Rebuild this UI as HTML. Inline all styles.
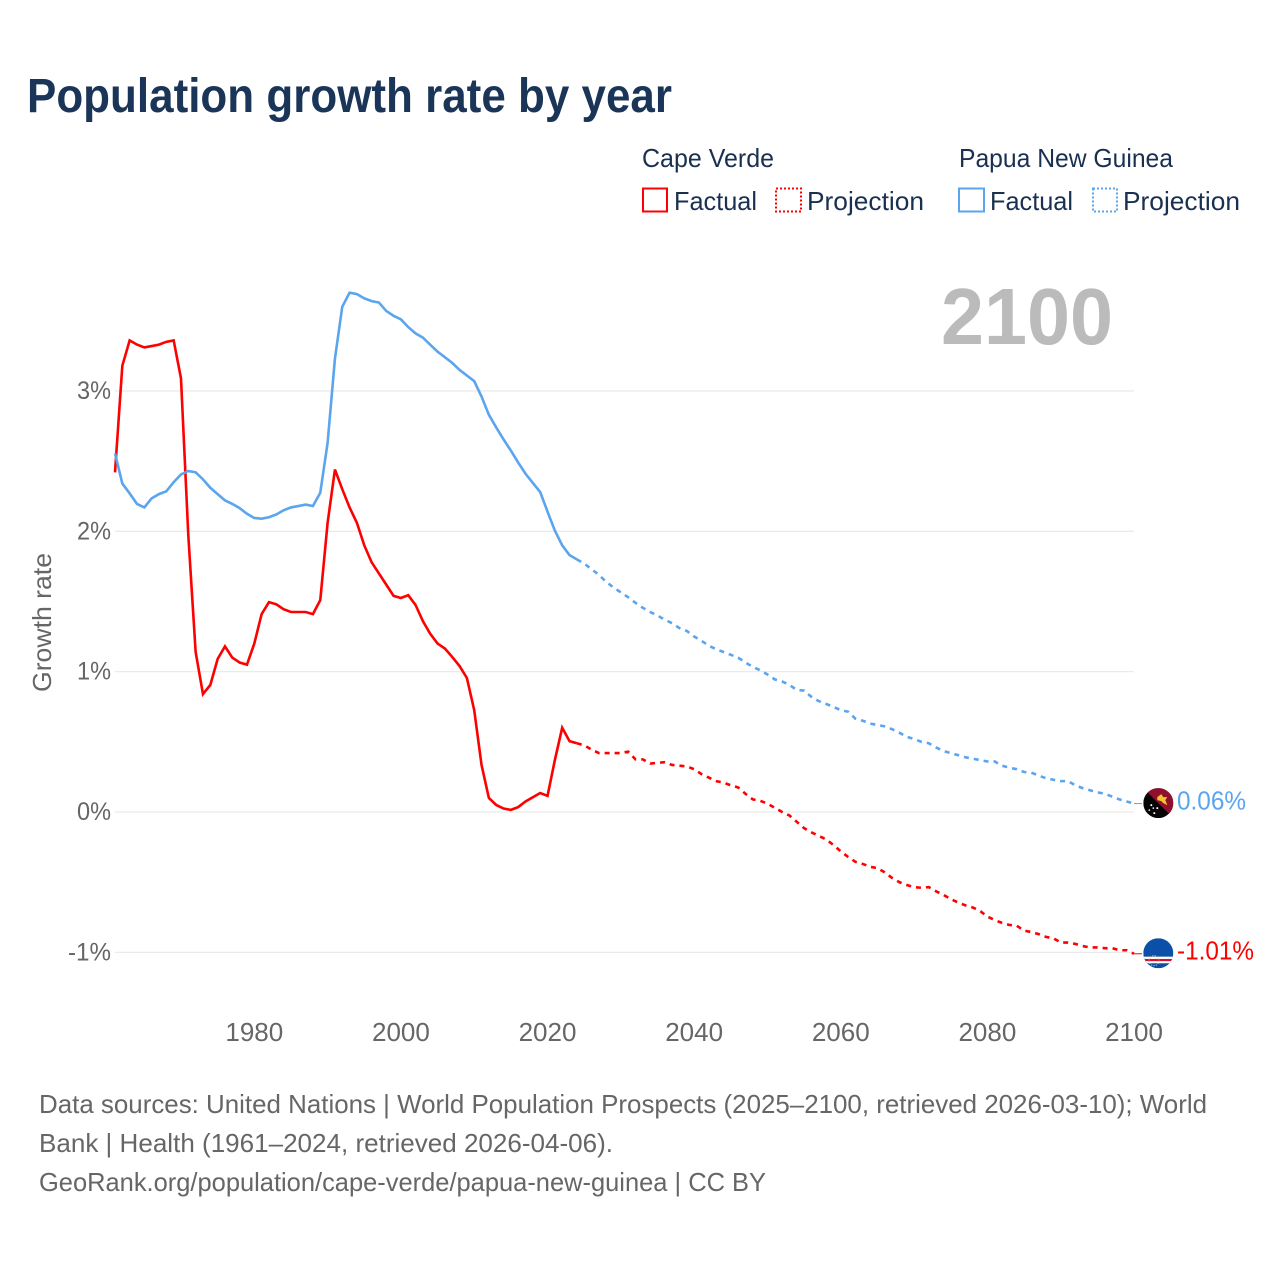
<!DOCTYPE html>
<html lang="en">
<head>
<meta charset="utf-8">
<title>Population growth rate by year</title>
<style>
html,body{margin:0;padding:0;background:#fff;width:1280px;height:1280px;overflow:hidden}
svg{display:block}
text{font-family:"Liberation Sans",sans-serif}
</style>
</head>
<body>
<svg id="chart" xmlns="http://www.w3.org/2000/svg" width="1280" height="1280" viewBox="0 0 1280 1280">
  <rect width="1280" height="1280" fill="#ffffff"/>
  <text x="27" y="112" font-size="48" font-weight="700" fill="#1a3557" textLength="645" lengthAdjust="spacingAndGlyphs">Population growth rate by year</text>

  <g font-size="26" fill="#1a3050">
    <text x="642" y="167" textLength="132" lengthAdjust="spacingAndGlyphs">Cape Verde</text>
    <text x="959" y="167" textLength="214" lengthAdjust="spacingAndGlyphs">Papua New Guinea</text>
    <rect x="643" y="188.5" width="24" height="23" fill="none" stroke="#ff0000" stroke-width="2"/>
    <text x="674" y="210" textLength="83" lengthAdjust="spacingAndGlyphs">Factual</text>
    <rect x="776" y="188.5" width="25" height="23" fill="none" stroke="#ff0000" stroke-width="2" stroke-dasharray="2 2"/>
    <text x="807" y="210" textLength="117" lengthAdjust="spacingAndGlyphs">Projection</text>
    <rect x="959" y="188.5" width="25" height="23" fill="none" stroke="#5ba4ee" stroke-width="2"/>
    <text x="990" y="210" textLength="83" lengthAdjust="spacingAndGlyphs">Factual</text>
    <rect x="1093" y="188.5" width="24" height="23" fill="none" stroke="#5ba4ee" stroke-width="2" stroke-dasharray="2 2"/>
    <text x="1123" y="210" textLength="117" lengthAdjust="spacingAndGlyphs">Projection</text>
  </g>

  <text x="941" y="344" font-size="80" font-weight="700" fill="#bbbbbb" textLength="172" lengthAdjust="spacingAndGlyphs">2100</text>
  <text transform="translate(51 692) rotate(-90)" font-size="26" fill="#666666" textLength="139" lengthAdjust="spacingAndGlyphs">Growth rate</text>

  <g id="grid"></g>
  <g id="yticks"></g>
  <g id="xticks"></g>
  <g id="series"></g>

  <defs>
    <clipPath id="flag-png-clip"><circle id="flag-png-clip-circle" cx="0" cy="0" r="15"/></clipPath>
    <clipPath id="flag-cv-clip"><circle id="flag-cv-clip-circle" cx="0" cy="0" r="15"/></clipPath>
  </defs>

  <g id="flag-png" clip-path="url(#flag-png-clip)">
    <rect x="-15" y="-15" width="30" height="30" fill="#050505"/>
    <path d="M-15 -15 L15 -15 L15 15 Z" fill="#8f0f2c"/>
    <path d="M-1 -6 L3 -9 L5 -6 L9 -6 L7 -3 L9 2 L5 0 L3 -2 L-1 -3 Z" fill="#f4c430"/>
    <g fill="#ffffff">
      <circle cx="-7" cy="2" r="1"/><circle cx="-1" cy="5" r="1"/><circle cx="-5" cy="5" r="0.8"/><circle cx="-4" cy="10" r="1"/><circle cx="-9" cy="7" r="0.8"/>
    </g>
  </g>

  <g id="flag-cv" clip-path="url(#flag-cv-clip)">
    <rect x="-15" y="-15" width="30" height="30" fill="#0a4fa8"/>
    <rect x="-15" y="3.4" width="30" height="6.6" fill="#ffffff"/>
    <rect x="-15" y="5.7" width="30" height="2.2" fill="#d21034"/>
    <circle cx="-4.3" cy="7.4" r="5" fill="none" stroke="#e8c840" stroke-width="1" stroke-dasharray="1.2 1.2"/>
  </g>

  <text id="label-png" x="1177" font-size="26" fill="#5ba4ee" textLength="69" lengthAdjust="spacingAndGlyphs"></text>
  <text id="label-cv" x="1177" font-size="26" fill="#ff0000" textLength="77" lengthAdjust="spacingAndGlyphs"></text>

  <g font-size="26" fill="#666666">
    <text x="39" y="1113" textLength="1168" lengthAdjust="spacingAndGlyphs">Data sources: United Nations | World Population Prospects (2025–2100, retrieved 2026-03-10); World</text>
    <text x="39" y="1152" textLength="574" lengthAdjust="spacingAndGlyphs">Bank | Health (1961–2024, retrieved 2026-04-06).</text>
    <text x="39" y="1191" textLength="727" lengthAdjust="spacingAndGlyphs">GeoRank.org/population/cape-verde/papua-new-guinea | CC BY</text>
  </g>
</svg>

<script>
const firstFactualYear = 1961;
const firstProjectionYear = 2024;
const xTickLabels = [1980, 2000, 2020, 2040, 2060, 2080, 2100];
const yTickValues = [3, 2, 1, 0, -1];
const yTickLabels = ["3%", "2%", "1%", "0%", "-1%"];
const capeVerdeEndLabel = "-1.01%";
const papuaEndLabel = "0.06%";

const capeVerdeFactual = [2.42,3.18,3.36,3.33,3.31,3.32,3.33,3.35,3.36,3.09,1.97,1.14,0.84,0.905,1.09,1.18,1.10,1.065,1.05,1.20,1.41,1.495,1.48,1.445,1.425,1.425,1.425,1.41,1.51,2.06,2.44,2.30,2.17,2.06,1.90,1.78,1.70,1.62,1.54,1.525,1.545,1.475,1.36,1.27,1.20,1.165,1.105,1.04,0.955,0.725,0.335,0.10,0.05,0.025,0.015,0.035,0.075,0.105,0.135,0.115,0.37,0.60,0.505,0.49];
const capeVerdeProjection = [0.49,0.475,0.445,0.42,0.42,0.42,0.42,0.43,0.375,0.375,0.345,0.35,0.355,0.335,0.33,0.325,0.305,0.27,0.245,0.22,0.21,0.19,0.175,0.13,0.09,0.08,0.06,0.03,0.00,-0.025,-0.07,-0.115,-0.145,-0.17,-0.195,-0.235,-0.28,-0.32,-0.355,-0.37,-0.39,-0.40,-0.43,-0.47,-0.50,-0.52,-0.535,-0.54,-0.535,-0.565,-0.59,-0.62,-0.645,-0.665,-0.68,-0.705,-0.745,-0.77,-0.79,-0.805,-0.81,-0.845,-0.855,-0.87,-0.89,-0.90,-0.93,-0.93,-0.94,-0.955,-0.965,-0.965,-0.97,-0.97,-0.985,-0.985,-1.01];
const papuaFactual = [2.555,2.34,2.27,2.195,2.17,2.235,2.265,2.285,2.35,2.405,2.43,2.42,2.37,2.31,2.265,2.22,2.195,2.165,2.125,2.095,2.09,2.10,2.12,2.15,2.17,2.18,2.19,2.18,2.275,2.63,3.23,3.60,3.70,3.69,3.66,3.64,3.63,3.57,3.535,3.51,3.455,3.41,3.38,3.33,3.28,3.24,3.20,3.15,3.11,3.07,2.96,2.83,2.74,2.655,2.575,2.49,2.41,2.345,2.28,2.14,2.005,1.90,1.83,1.80];
const papuaProjection = [1.80,1.77,1.73,1.69,1.64,1.60,1.565,1.53,1.49,1.455,1.425,1.40,1.37,1.345,1.31,1.29,1.25,1.22,1.185,1.16,1.14,1.12,1.10,1.065,1.035,1.01,0.98,0.945,0.93,0.905,0.87,0.865,0.82,0.79,0.77,0.75,0.725,0.715,0.665,0.65,0.63,0.62,0.61,0.59,0.565,0.535,0.52,0.50,0.49,0.46,0.435,0.42,0.405,0.39,0.38,0.37,0.36,0.36,0.33,0.315,0.305,0.285,0.28,0.26,0.24,0.23,0.22,0.22,0.19,0.17,0.155,0.14,0.13,0.11,0.09,0.075,0.06];

const NS = "http://www.w3.org/2000/svg";
const plotLeft = 115, plotRight = 1134;
function xScale(year) { return plotLeft + (year - 1961) * (plotRight - plotLeft) / (2100 - 1961); }
function yScale(v) { return 812 - v * 140.35; }

function linePath(startYear, values) {
  return values.map(function (v, i) {
    return (i ? "L" : "M") + xScale(startYear + i).toFixed(2) + " " + yScale(v).toFixed(2);
  }).join(" ");
}

const grid = document.getElementById("grid");
const yticks = document.getElementById("yticks");
yTickValues.forEach(function (v, i) {
  const line = document.createElementNS(NS, "line");
  
  
  line.setAttribute("x1", plotLeft);
  line.setAttribute("x2", plotRight);
  line.setAttribute("y1", yScale(v));
  line.setAttribute("y2", yScale(v));
  line.setAttribute("stroke", "#ebebeb");
  line.setAttribute("stroke-width", "1.3");
  grid.appendChild(line);

  const t = document.createElementNS(NS, "text");
  
  
  t.setAttribute("x", 111);
  t.setAttribute("y", yScale(v) + 8);
  t.setAttribute("text-anchor", "end");
  t.setAttribute("font-size", "25");
  t.setAttribute("fill", "#666666");
  t.setAttribute("textLength", yTickLabels[i].length > 2 ? 43 : 34);
  t.setAttribute("lengthAdjust", "spacingAndGlyphs");
  t.textContent = yTickLabels[i];
  yticks.appendChild(t);
});

const xticks = document.getElementById("xticks");
xTickLabels.forEach(function (year) {
  const t = document.createElementNS(NS, "text");
  
  
  t.setAttribute("x", xScale(year));
  t.setAttribute("y", 1041);
  t.setAttribute("text-anchor", "middle");
  t.setAttribute("font-size", "26");
  t.setAttribute("fill", "#666666");
  t.textContent = year;
  xticks.appendChild(t);
});

const series = document.getElementById("series");

const cvFactualLine = document.createElementNS(NS, "path");


cvFactualLine.setAttribute("d", linePath(firstFactualYear, capeVerdeFactual));
cvFactualLine.setAttribute("fill", "none");
cvFactualLine.setAttribute("stroke", "#ff0000");
cvFactualLine.setAttribute("stroke-width", "2.6");
series.appendChild(cvFactualLine);

const cvProjectionLine = document.createElementNS(NS, "path");


cvProjectionLine.setAttribute("d", linePath(firstProjectionYear, capeVerdeProjection));
cvProjectionLine.setAttribute("fill", "none");
cvProjectionLine.setAttribute("stroke", "#ff0000");
cvProjectionLine.setAttribute("stroke-width", "2.6");
cvProjectionLine.setAttribute("stroke-dasharray", "5 5");
series.appendChild(cvProjectionLine);

const pngFactualLine = document.createElementNS(NS, "path");


pngFactualLine.setAttribute("d", linePath(firstFactualYear, papuaFactual));
pngFactualLine.setAttribute("fill", "none");
pngFactualLine.setAttribute("stroke", "#5ba4ee");
pngFactualLine.setAttribute("stroke-width", "2.6");
series.appendChild(pngFactualLine);

const pngProjectionLine = document.createElementNS(NS, "path");


pngProjectionLine.setAttribute("d", linePath(firstProjectionYear, papuaProjection));
pngProjectionLine.setAttribute("fill", "none");
pngProjectionLine.setAttribute("stroke", "#5ba4ee");
pngProjectionLine.setAttribute("stroke-width", "2.6");
pngProjectionLine.setAttribute("stroke-dasharray", "5 5");
series.appendChild(pngProjectionLine);

const cvEndY = yScale(capeVerdeProjection[capeVerdeProjection.length - 1]);
const pngEndY = yScale(papuaProjection[papuaProjection.length - 1]);

const cvConnector = document.createElementNS(NS, "line");


cvConnector.setAttribute("x1", plotRight);
cvConnector.setAttribute("x2", 1142);
cvConnector.setAttribute("y1", cvEndY);
cvConnector.setAttribute("y2", cvEndY);
cvConnector.setAttribute("stroke", "#ff0000");
cvConnector.setAttribute("stroke-width", "1");
series.appendChild(cvConnector);

const pngConnector = document.createElementNS(NS, "line");


pngConnector.setAttribute("x1", plotRight);
pngConnector.setAttribute("x2", 1142);
pngConnector.setAttribute("y1", pngEndY);
pngConnector.setAttribute("y2", pngEndY);
pngConnector.setAttribute("stroke", "#5ba4ee");
pngConnector.setAttribute("stroke-width", "1");
series.appendChild(pngConnector);

document.getElementById("flag-png").setAttribute("transform", "translate(1158.3 " + (pngEndY - 0.5).toFixed(2) + ")");
document.getElementById("flag-cv").setAttribute("transform", "translate(1158.3 " + (cvEndY - 0.5).toFixed(2) + ")");

const labelPng = document.getElementById("label-png");
labelPng.setAttribute("y", pngEndY + 6);
labelPng.textContent = papuaEndLabel;

const labelCv = document.getElementById("label-cv");
labelCv.setAttribute("y", cvEndY + 5.5);
labelCv.textContent = capeVerdeEndLabel;
</script>
</body>
</html>
